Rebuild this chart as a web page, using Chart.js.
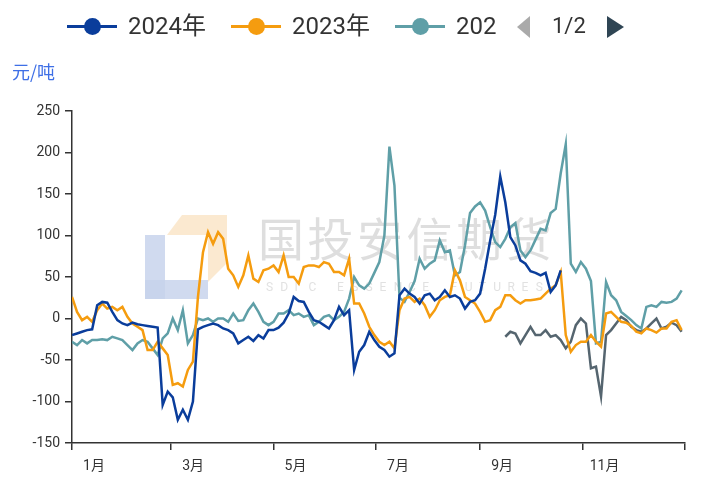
<!DOCTYPE html>
<html>
<head>
<meta charset="utf-8">
<script src="https://cdn.jsdelivr.net/npm/chart.js@4.4.1/dist/chart.umd.min.js"></script>
<style>
  body { margin: 0; background: #fff; font-family: Roboto, "Noto Sans CJK SC", sans-serif; }
  #wrap { position: relative; width: 711px; height: 483px; }
  #legend { position: absolute; left: 67px; top: 11px; width: 429px; height: 30px; overflow: hidden; white-space: nowrap; }
  .item { display: inline-flex; align-items: center; margin-right: 25px; height: 30px; }
  .sym { position: relative; width: 50px; height: 30px; margin-right: 11px; }
  .sym .ln { position: absolute; left: 0; right: 0; top: 14px; height: 2.5px; }
  .sym .dot { position: absolute; left: 17px; top: 6.5px; width: 17px; height: 17px; border-radius: 50%; }
  .txt { font-size: 24px; color: #333; line-height: 30px; }
  #pager { position: absolute; left: 517px; top: 12px; height: 30px; }
  .tri { position: absolute; top: 4px; width: 0; height: 0; border-top: 11px solid transparent; border-bottom: 11px solid transparent; }
  #prev { left: 0; border-right: 13px solid #aaa; }
  #next { left: 90px; border-left: 17px solid #2f4554; }
  #page { position: absolute; left: 35px; top: -1px; font-size: 22px; line-height: 30px; color: #333; }
  #unit { position: absolute; left: 12px; top: 58px; font-size: 18px; color: #3e6fe6; font-family: "Noto Sans CJK SC", sans-serif; }
  canvas { position: absolute; left: 0; top: 0; }
</style>
</head>
<body>
<div id="wrap">
  <canvas id="myChart" width="711" height="483"></canvas>
  <div id="legend"></div>
  <div id="pager"><div class="tri" id="prev"></div><span id="page">1/2</span><div class="tri" id="next"></div></div>
  <div id="unit">元/吨</div>
</div>
<script>
// trading-day sample, day of year (every 3 days)
var days = [0,3,6,9,12,15,18,21,24,27,30,33,36,39,42,45,48,51,54,57,
  60,63,66,69,72,75,78,81,84,87,90,93,96,99,102,105,108,111,114,117,
  120,123,126,129,132,135,138,141,144,147,150,153,156,159,162,165,168,171,174,177,
  180,183,186,189,192,195,198,201,204,207,210,213,216,219,222,225,228,231,234,237,
  240,243,246,249,252,255,258,261,264,267,270,273,276,279,282,285,288,291,294,297,
  300,303,306,309,312,315,318,321,324,327,330,333,336,339,342,345,348,351,354,357,
  360,363];

var monthTicks = [0, 59, 120, 181, 243, 304, 365];
var monthLabels = ["1月", "3月", "5月", "7月", "9月", "11月", ""];

var y2024 = [-20,-18,-16,-14,-13,16,20,19,8,-2,
  -6,-8,-5,-7,-8,-9,-10,-11,-104,-88,
  -95,-122,-110,-122,-100,-13,-10,-8,-6,-8,
  -12,-14,-18,-30,-26,-22,-27,-20,-24,-14,
  -14,-11,-5,6,26,21,20,8,-2,-4,
  -8,-12,-2,14,4,10,-62,-40,-32,-16,
  -26,-34,-38,-46,-42,28,36,30,26,18,
  28,30,22,26,34,26,28,24,12,20,
  22,30,60,94,125,171,140,98,88,70,
  66,57,55,52,55,32,40,58];

var y2023 = [26,8,-2,2,-4,10,18,12,14,10,
  14,2,-6,-10,-14,-38,-38,-28,-36,-44,
  -80,-78,-82,-62,-52,26,80,104,90,104,
  96,60,52,38,52,76,48,44,58,60,
  64,56,76,50,50,42,62,64,64,62,
  68,66,56,56,52,72,18,18,6,-10,
  -20,-28,-32,-28,-36,10,24,26,20,24,
  16,2,10,22,26,28,58,46,26,22,
  18,8,-4,-2,10,14,28,28,22,18,
  22,22,23,24,30,36,40,56,-20,-40,
  -32,-28,-28,-20,-28,-34,6,8,2,-4,
  -5,-9,-16,-18,-12,-14,-17,-12,-12,-4,-2,-14];

var y2022 = [-28,-32,-26,-30,-26,-26,-25,-26,-22,-24,
  -26,-32,-38,-30,-26,-28,-36,-44,-24,-18,
  0,-14,10,-30,-20,0,-2,0,-4,0,
  0,-4,6,-3,-2,10,18,8,-4,-8,
  -4,6,6,10,4,6,2,4,-8,-4,
  2,4,-2,2,8,24,50,40,36,42,
  55,68,100,207,160,25,20,32,45,72,
  60,66,70,94,80,82,52,56,88,127,
  135,140,130,110,92,86,96,110,115,82,
  74,82,95,108,106,127,132,175,210,66,
  56,68,60,45,-30,-28,44,28,22,8,
  3,-2,-8,-12,14,16,14,20,19,20,24,34];

// 2021 series only starts in late September
var start2021 = 258;
var y2021 = [-22,-16,-18,-30,-20,-10,-20,-20,-14,-22,
  -20,-26,-36,-28,-8,0,-6,-60,-58,-94,
  -20,-14,-6,2,-2,-10,-14,-16,-12,-6,
  0,-12,-10,-5,-8,-16];

var names = ["2024年", "2023年", "2022年", "2021年"];
var colors = ["#0a3d9b", "#f59c0f", "#5f9fa7", "#55656f"];

function points(vals, firstDay) {
  var off = days.indexOf(firstDay);
  return vals.map(function (v, i) { return { x: days[off + i], y: v }; });
}

var series = [points(y2024, 0), points(y2023, 0), points(y2022, 0), points(y2021, start2021)];

// legend (ECharts style, paged)
var legend = document.getElementById("legend");
names.forEach(function (n, i) {
  var it = document.createElement("span");
  it.className = "item";
  it.innerHTML = '<span class="sym"><span class="ln" style="background:' + colors[i] + '"></span>' +
    '<span class="dot" style="background:' + colors[i] + '"></span></span><span class="txt">' + n + '</span>';
  legend.appendChild(it);
});

var watermark = {
  id: "watermark",
  beforeDatasetsDraw: function (chart) {
    var ctx = chart.ctx;
    ctx.save();
    ctx.fillStyle = "rgba(250,226,192,0.75)";
    ctx.beginPath();
    ctx.moveTo(167, 235); ctx.lineTo(182, 215); ctx.lineTo(227, 215);
    ctx.lineTo(227, 263); ctx.lineTo(208, 282); ctx.lineTo(208, 235);
    ctx.closePath(); ctx.fill();
    ctx.fillStyle = "rgba(200,212,236,0.85)";
    ctx.fillRect(145, 235, 20, 64);
    ctx.fillRect(145, 280, 63, 19);
    ctx.fillStyle = "rgba(190,190,190,0.5)";
    ctx.font = '46px "Noto Sans CJK SC"';
    ctx.textBaseline = "middle";
    var cn = "国投安信期货";
    for (var i = 0; i < cn.length; i++) ctx.fillText(cn[i], 258 + i * 49.5, 239);
    ctx.font = "12px Roboto";
    ctx.fillStyle = "rgba(200,200,200,0.55)";
    var en = "SDIC ESSENCE FUTURES";
    for (var j = 0; j < en.length; j++) ctx.fillText(en[j], 266 + j * 14.2, 288);
    ctx.restore();
  }
};

var axisColor = "#333";
new Chart(document.getElementById("myChart").getContext("2d"), {
  type: "line",
  data: {
    datasets: series.map(function (d, i) {
      return {
        label: names[i],
        data: d,
        borderColor: colors[i],
        backgroundColor: colors[i],
        borderWidth: 2.5,
        pointRadius: 0,
        tension: 0,
        fill: false
      };
    })
  },
  options: {
    responsive: false,
    animation: false,
    layout: { padding: { left: 0, right: 26, top: 111, bottom: 0 } },
    plugins: { legend: { display: false }, tooltip: { enabled: false } },
    scales: {
      x: {
        type: "linear",
        min: 0,
        max: 365,
        afterBuildTicks: function (s) { s.ticks = monthTicks.map(function (v) { return { value: v }; }); },
        afterFit: function (s) { s.height = 40; },
        ticks: {
          autoSkip: false, maxRotation: 0, labelOffset: 22, padding: 8,
          color: "#333", font: { size: 14, family: 'Roboto, "Noto Sans CJK SC"' },
          callback: function (v, i) { return monthLabels[i]; }
        },
        grid: { drawOnChartArea: false, tickLength: 7, color: axisColor, lineWidth: 1.5 },
        border: { color: axisColor, width: 1.5 }
      },
      y: {
        min: -150,
        max: 250,
        afterFit: function (s) { s.width = 72; },
        ticks: { stepSize: 50, padding: 5, color: "#333", font: { size: 14, family: "Roboto" } },
        grid: { drawOnChartArea: false, tickLength: 7, color: axisColor, lineWidth: 1.5 },
        border: { color: axisColor, width: 1.5 }
      }
    }
  },
  plugins: [watermark]
});
</script>
</body>
</html>
